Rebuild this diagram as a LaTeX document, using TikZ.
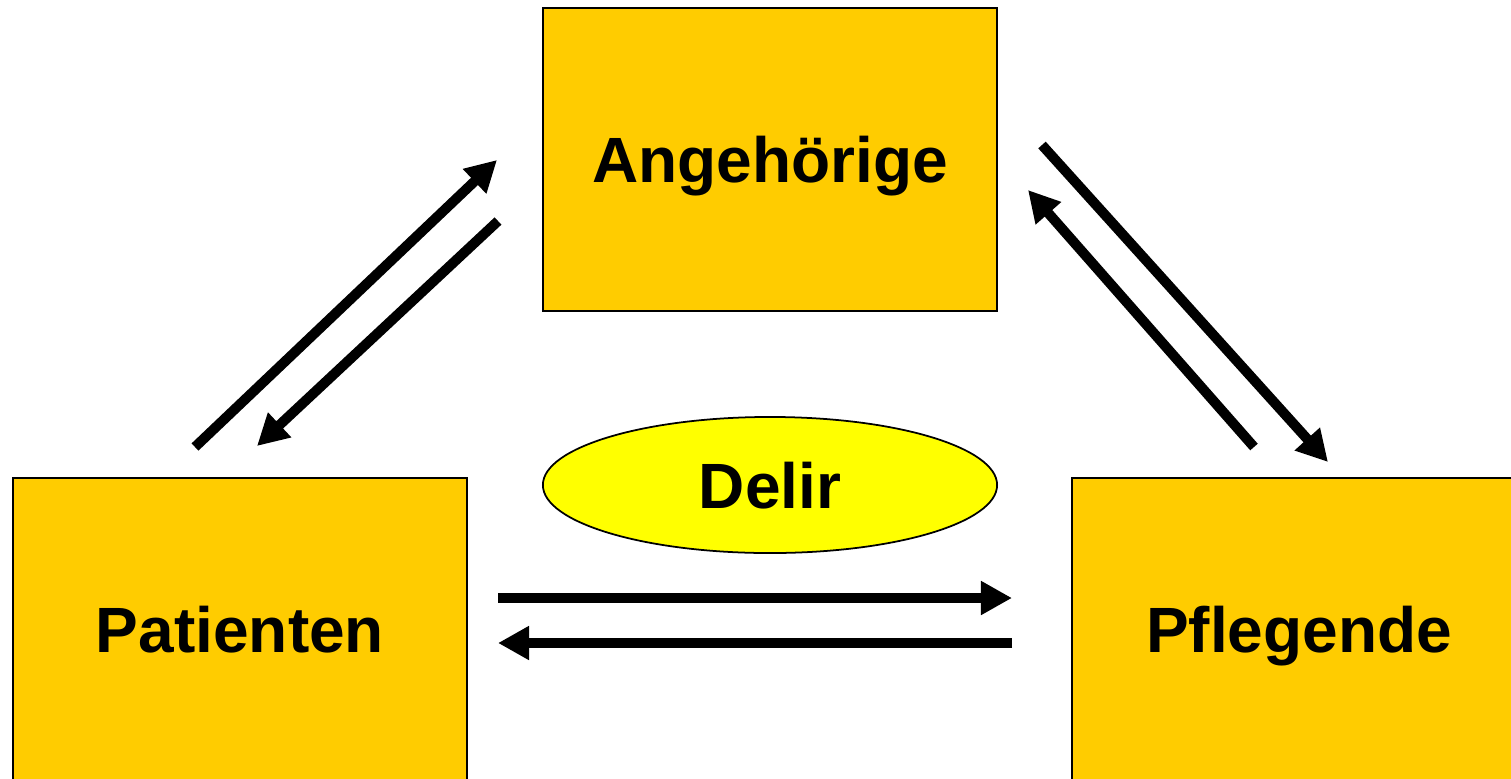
\documentclass[tikz,border=0pt]{standalone}
\usepackage{fontspec}
\setmainfont{Liberation Sans}
\usetikzlibrary{arrows.meta,shapes.geometric}

\definecolor{boxgelb}{HTML}{FFCC00}
\definecolor{delirgelb}{HTML}{FFFF00}

\tikzset{
  gruppe/.style={draw=black, line width=0.5pt, fill=boxgelb, inner sep=0pt,
    minimum width=4.54cm, minimum height=3.03cm,
    text height=0.46cm, text depth=0pt, font=\fontsize{18.2}{22}\selectfont\bfseries},
  wechsel/.style={line width=0.1cm, -{Triangle[length=0.31cm,width=0.32cm]}},
}

\begin{document}
\begin{tikzpicture}[x=0.01cm,y=-0.01cm]
    \clip (0,0) rectangle (1511,778);

    \node[gruppe] (ang) at (770,159.5) {Angehörige};
    \node[gruppe] (pat) at (240,629.5) {Patienten};
    \node[gruppe] (pfl) at (1299,629.5) {Pflegende};
    \node[gruppe, ellipse, fill=delirgelb, minimum width=4.54cm, minimum height=1.36cm] (delir) at (770,485) {Delir};

    % Enden der Pfeile
    \coordinate (pa1) at (195,447);  \coordinate (ap1) at (497,160);
    \coordinate (ap2) at (498,221);  \coordinate (pa2) at (257,446);
    \coordinate (af1) at (1042,145); \coordinate (fa1) at (1328,462);
    \coordinate (fa2) at (1254,447); \coordinate (af2) at (1028,190);
    \coordinate (pf1) at (498,598);  \coordinate (fp1) at (1012,598);
    \coordinate (fp2) at (1012,643); \coordinate (pf2) at (498,643);

    \draw[wechsel] (pa1) -- (ap1);
    \draw[wechsel] (ap2) -- (pa2);
    \draw[wechsel] (af1) -- (fa1);
    \draw[wechsel] (fa2) -- (af2);
    \draw[wechsel] (pf1) -- (fp1);
    \draw[wechsel] (fp2) -- (pf2);
\end{tikzpicture}
\end{document}
